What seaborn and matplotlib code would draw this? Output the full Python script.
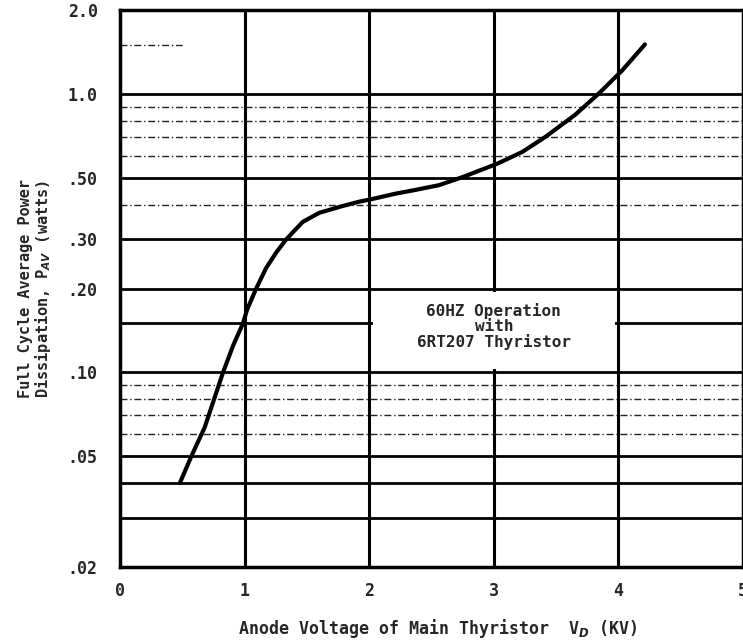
import numpy as np
import pandas as pd
import matplotlib
matplotlib.use("Agg")
import matplotlib.pyplot as plt
import seaborn as sns

# curve
voltage_kv = [0.48, 0.573, 0.68, 0.827, 0.907, 0.987, 1.02, 1.093, 1.173, 1.253,
              1.333, 1.467, 1.6, 1.773, 1.92, 2.013, 2.21, 2.373, 2.56, 2.747,
              3.027, 3.227, 3.413, 3.653, 3.84, 4.027, 4.213]
power_w = [0.040, 0.050, 0.0635, 0.100, 0.1245, 0.150, 0.168, 0.200, 0.237, 0.269,
           0.300, 0.347, 0.374, 0.394, 0.410, 0.418, 0.438, 0.452, 0.470, 0.502,
           0.561, 0.618, 0.700, 0.841, 1.000, 1.209, 1.505]

y_ticks = [0.02, 0.05, 0.10, 0.20, 0.30, 0.50, 1.0, 2.0]
y_tick_labels = [".02", ".05", ".10", ".20", ".30", ".50", "1.0", "2.0"]
x_ticks = [0, 1, 2, 3, 4, 5]
major_rows = [0.03, 0.04, 0.05, 0.10, 0.15, 0.20, 0.30, 0.50, 1.0]
minor_rows = [0.06, 0.07, 0.08, 0.09, 0.4, 0.6, 0.7, 0.8, 0.9]
note = "60HZ Operation\nwith\n6RT207 Thyristor"

df = pd.DataFrame({"V": voltage_kv, "P": power_w})

sns.set_style("white")
plt.rcParams["font.family"] = ["DejaVu Sans Mono", "DejaVu Sans"]
plt.rcParams["font.weight"] = "bold"
plt.rcParams["mathtext.fontset"] = "dejavusans"

fig = plt.figure(figsize=(7.43, 6.43), dpi=100)
ax = fig.add_axes([120 / 743, 1 - 567 / 643, 623 / 743, 557 / 643])

ax.set_yscale("log")
ax.set_xlim(0, 5)
ax.set_ylim(0.02, 2.0)

# grid drawn by hand, like the printed paper
for v in [1, 2, 3, 4]:
    ax.axvline(v, color="black", lw=2.2, zorder=1)
for r in major_rows:
    ax.axhline(r, color="black", lw=2.0, zorder=1)
for r in minor_rows:
    ax.axhline(r, color="#222222", lw=1.0, ls=(0, (5, 2, 1, 2)), zorder=1)
ax.axhline(1.5, xmin=0.0, xmax=0.1, color="#222222", lw=1.0, ls=(0, (5, 2, 1, 2)), zorder=1)

# blank box behind the note
ax.fill_between([2.03, 3.97], 0.103, 0.195, color="white", zorder=2, lw=0)
ax.text(3.0, 0.146, note, ha="center", va="center", multialignment="center",
        fontsize=11.5, fontweight="bold", linespacing=1.0, zorder=3)

sns.lineplot(data=df, x="V", y="P", ax=ax, color="black", lw=3, zorder=4,
             solid_capstyle="round", solid_joinstyle="round")

ax.set_yticks(y_ticks)
ax.set_yticklabels(y_tick_labels)
ax.yaxis.set_minor_locator(matplotlib.ticker.NullLocator())
ax.set_xticks(x_ticks)
ax.set_xticklabels([str(t) for t in x_ticks])
ax.tick_params(axis="both", length=0, labelsize=12)
ax.tick_params(axis="y", pad=16)
ax.tick_params(axis="x", pad=11)

for s in ax.spines.values():
    s.set_color("black")
    s.set_linewidth(2.5)

ax.set_xlabel("Anode Voltage of Main Thyristor  V$_D$ (KV)", fontsize=12, fontweight="bold")
ax.xaxis.set_label_coords(0.51, -0.09)
ax.set_ylabel("Full Cycle Average Power\nDissipation, P$_{AV}$ (watts)", fontsize=11,
              fontweight="bold", linespacing=1.0)
ax.yaxis.set_label_coords(-0.108, 0.5)

fig.savefig("out.png", dpi=100)
